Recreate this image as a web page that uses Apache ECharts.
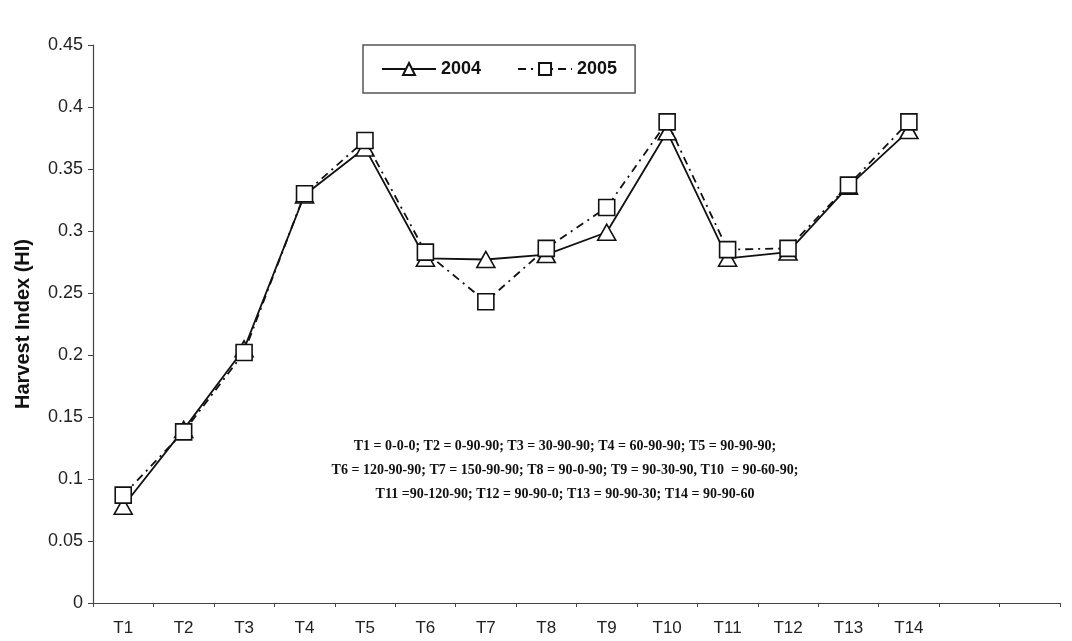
<!DOCTYPE html>
<html><head><meta charset="utf-8">
<script src="https://cdn.jsdelivr.net/npm/echarts@6/dist/echarts.min.js"></script>
<style>html,body{margin:0;padding:0;background:#fff}#c{width:1072px;height:641px}</style>
</head><body><div id="c"></div>
<script>
const categories = ['T1','T2','T3','T4','T5','T6','T7','T8','T9','T10','T11','T12','T13','T14','',''];
const hi2004 = [0.078,0.140,0.205,0.329,0.367,0.278,0.277,0.281,0.299,0.380,0.278,0.283,0.336,0.381];
const hi2005 = [0.087,0.138,0.202,0.330,0.373,0.283,0.243,0.286,0.319,0.388,0.285,0.286,0.337,0.388];
const yTicks = {min:0, max:0.45, interval:0.05};
const notes = [
  'T1 = 0-0-0; T2 = 0-90-90; T3 = 30-90-90; T4 = 60-90-90; T5 = 90-90-90;',
  'T6 = 120-90-90; T7 = 150-90-90; T8 = 90-0-90; T9 = 90-30-90, T10  = 90-60-90;',
  'T11 =90-120-90; T12 = 90-90-0; T13 = 90-90-30; T14 = 90-90-60'
];
const chart = echarts.init(document.getElementById('c'));
chart.setOption({
  backgroundColor:'#fff',
  animation:false,
  grid:{left:93,right:12,top:45,bottom:38},
  legend:{
    left:363, top:45,
    padding:[15,18,15,18],
    borderColor:'#555', borderWidth:1.5,
    itemWidth:54, itemHeight:15, itemGap:36,
    textStyle:{fontFamily:'Liberation Sans, Arial', fontWeight:'bold', fontSize:18, color:'#111'},
    data:['2004','2005']
  },
  xAxis:{
    type:'category', data:categories, boundaryGap:true,
    axisLine:{lineStyle:{color:'#444',width:1.2}},
    axisTick:{show:true, length:4, lineStyle:{color:'#444'}},
    axisLabel:{fontFamily:'Liberation Sans, Arial', fontSize:17, color:'#222', margin:17, interval:0}
  },
  yAxis:{
    type:'value', min:yTicks.min, max:yTicks.max, interval:yTicks.interval,
    name:'Harvest Index (HI)', nameLocation:'middle', nameGap:60,
    nameTextStyle:{fontFamily:'Liberation Sans, Arial', fontWeight:'bold', fontSize:20, color:'#111'},
    axisLine:{show:true, lineStyle:{color:'#444',width:1.2}},
    axisTick:{show:true, length:5, inside:false, lineStyle:{color:'#444'}},
    splitLine:{show:false},
    axisLabel:{fontFamily:'Liberation Sans, Arial', fontSize:18, color:'#222', margin:10}
  },
  series:[
    {name:'2004', type:'line', data:hi2004, symbol:'triangle', symbolSize:[18,16],
     lineStyle:{color:'#111', width:1.8, type:'solid'},
     itemStyle:{color:'#fff', borderColor:'#111', borderWidth:1.6}, z:2},
    {name:'2005', type:'line', data:hi2005, symbol:'rect', symbolSize:[16,16],
     lineStyle:{color:'#111', width:1.8, type:[8,5,2,5]},
     itemStyle:{color:'#fff', borderColor:'#111', borderWidth:1.6}, z:3}
  ],
  graphic: notes.map((t,i)=>({
    type:'text', x:565, y:446+i*24,
    style:{text:t, font:'bold 14px "Liberation Serif", "Times New Roman", serif', fill:'#111',
           align:'center', textAlign:'center', verticalAlign:'middle', textVerticalAlign:'middle'}
  }))
});
</script></body></html>
